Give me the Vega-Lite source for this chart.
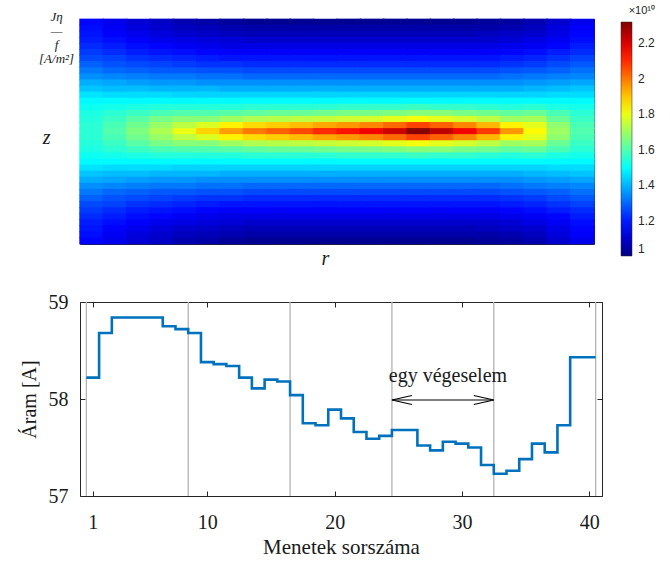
{
"$schema":"https://vega.github.io/schema/vega-lite/v6.json",
"padding":{"left":18,"top":5,"right":0,"bottom":0},
"config":{"font":"Liberation Serif","view":{"stroke":"#262626","strokeWidth":1},"axis":{"grid":false,"domain":false,"labelColor":"#1a1a1a","titleColor":"#1a1a1a","tickColor":"#262626","titleFontWeight":"normal"}},
"spacing":22,
"vconcat":[
{
"width":514,"height":225,
"data":{"values":[
{"r":1,"z":1,"v":1.17},{"r":1,"z":2,"v":1.18},{"r":1,"z":3,"v":1.19},{"r":1,"z":4,"v":1.20},{"r":1,"z":5,"v":1.22},{"r":1,"z":6,"v":1.24},{"r":1,"z":7,"v":1.26},{"r":1,"z":8,"v":1.29},{"r":1,"z":9,"v":1.32},{"r":1,"z":10,"v":1.35},{"r":1,"z":11,"v":1.39},{"r":1,"z":12,"v":1.42},{"r":1,"z":13,"v":1.46},{"r":1,"z":14,"v":1.49},{"r":1,"z":15,"v":1.51},{"r":1,"z":16,"v":1.53},{"r":1,"z":17,"v":1.54},{"r":1,"z":18,"v":1.55},{"r":1,"z":19,"v":1.55},{"r":1,"z":20,"v":1.55},{"r":1,"z":21,"v":1.54},{"r":1,"z":22,"v":1.53},{"r":1,"z":23,"v":1.51},{"r":1,"z":24,"v":1.49},{"r":1,"z":25,"v":1.46},{"r":1,"z":26,"v":1.42},{"r":1,"z":27,"v":1.39},{"r":1,"z":28,"v":1.35},{"r":1,"z":29,"v":1.32},{"r":1,"z":30,"v":1.29},{"r":1,"z":31,"v":1.26},{"r":1,"z":32,"v":1.24},{"r":1,"z":33,"v":1.22},{"r":1,"z":34,"v":1.20},{"r":1,"z":35,"v":1.19},{"r":1,"z":36,"v":1.18},{"r":1,"z":37,"v":1.17},
{"r":2,"z":1,"v":1.14},{"r":2,"z":2,"v":1.15},{"r":2,"z":3,"v":1.16},{"r":2,"z":4,"v":1.18},{"r":2,"z":5,"v":1.20},{"r":2,"z":6,"v":1.22},{"r":2,"z":7,"v":1.25},{"r":2,"z":8,"v":1.27},{"r":2,"z":9,"v":1.30},{"r":2,"z":10,"v":1.34},{"r":2,"z":11,"v":1.38},{"r":2,"z":12,"v":1.41},{"r":2,"z":13,"v":1.45},{"r":2,"z":14,"v":1.49},{"r":2,"z":15,"v":1.52},{"r":2,"z":16,"v":1.55},{"r":2,"z":17,"v":1.57},{"r":2,"z":18,"v":1.59},{"r":2,"z":19,"v":1.60},{"r":2,"z":20,"v":1.59},{"r":2,"z":21,"v":1.57},{"r":2,"z":22,"v":1.55},{"r":2,"z":23,"v":1.52},{"r":2,"z":24,"v":1.49},{"r":2,"z":25,"v":1.45},{"r":2,"z":26,"v":1.41},{"r":2,"z":27,"v":1.38},{"r":2,"z":28,"v":1.34},{"r":2,"z":29,"v":1.30},{"r":2,"z":30,"v":1.27},{"r":2,"z":31,"v":1.25},{"r":2,"z":32,"v":1.22},{"r":2,"z":33,"v":1.20},{"r":2,"z":34,"v":1.18},{"r":2,"z":35,"v":1.16},{"r":2,"z":36,"v":1.15},{"r":2,"z":37,"v":1.14},
{"r":3,"z":1,"v":1.11},{"r":3,"z":2,"v":1.12},{"r":3,"z":3,"v":1.14},{"r":3,"z":4,"v":1.16},{"r":3,"z":5,"v":1.18},{"r":3,"z":6,"v":1.20},{"r":3,"z":7,"v":1.23},{"r":3,"z":8,"v":1.26},{"r":3,"z":9,"v":1.29},{"r":3,"z":10,"v":1.33},{"r":3,"z":11,"v":1.37},{"r":3,"z":12,"v":1.41},{"r":3,"z":13,"v":1.45},{"r":3,"z":14,"v":1.49},{"r":3,"z":15,"v":1.53},{"r":3,"z":16,"v":1.57},{"r":3,"z":17,"v":1.61},{"r":3,"z":18,"v":1.64},{"r":3,"z":19,"v":1.66},{"r":3,"z":20,"v":1.64},{"r":3,"z":21,"v":1.61},{"r":3,"z":22,"v":1.57},{"r":3,"z":23,"v":1.53},{"r":3,"z":24,"v":1.49},{"r":3,"z":25,"v":1.45},{"r":3,"z":26,"v":1.41},{"r":3,"z":27,"v":1.37},{"r":3,"z":28,"v":1.33},{"r":3,"z":29,"v":1.29},{"r":3,"z":30,"v":1.26},{"r":3,"z":31,"v":1.23},{"r":3,"z":32,"v":1.20},{"r":3,"z":33,"v":1.18},{"r":3,"z":34,"v":1.16},{"r":3,"z":35,"v":1.14},{"r":3,"z":36,"v":1.12},{"r":3,"z":37,"v":1.11},
{"r":4,"z":1,"v":1.09},{"r":4,"z":2,"v":1.10},{"r":4,"z":3,"v":1.12},{"r":4,"z":4,"v":1.14},{"r":4,"z":5,"v":1.17},{"r":4,"z":6,"v":1.19},{"r":4,"z":7,"v":1.22},{"r":4,"z":8,"v":1.25},{"r":4,"z":9,"v":1.28},{"r":4,"z":10,"v":1.32},{"r":4,"z":11,"v":1.36},{"r":4,"z":12,"v":1.40},{"r":4,"z":13,"v":1.45},{"r":4,"z":14,"v":1.49},{"r":4,"z":15,"v":1.54},{"r":4,"z":16,"v":1.59},{"r":4,"z":17,"v":1.65},{"r":4,"z":18,"v":1.69},{"r":4,"z":19,"v":1.72},{"r":4,"z":20,"v":1.69},{"r":4,"z":21,"v":1.65},{"r":4,"z":22,"v":1.59},{"r":4,"z":23,"v":1.54},{"r":4,"z":24,"v":1.49},{"r":4,"z":25,"v":1.45},{"r":4,"z":26,"v":1.40},{"r":4,"z":27,"v":1.36},{"r":4,"z":28,"v":1.32},{"r":4,"z":29,"v":1.28},{"r":4,"z":30,"v":1.25},{"r":4,"z":31,"v":1.22},{"r":4,"z":32,"v":1.19},{"r":4,"z":33,"v":1.17},{"r":4,"z":34,"v":1.14},{"r":4,"z":35,"v":1.12},{"r":4,"z":36,"v":1.10},{"r":4,"z":37,"v":1.09},
{"r":5,"z":1,"v":1.06},{"r":5,"z":2,"v":1.08},{"r":5,"z":3,"v":1.10},{"r":5,"z":4,"v":1.13},{"r":5,"z":5,"v":1.15},{"r":5,"z":6,"v":1.18},{"r":5,"z":7,"v":1.21},{"r":5,"z":8,"v":1.24},{"r":5,"z":9,"v":1.28},{"r":5,"z":10,"v":1.32},{"r":5,"z":11,"v":1.36},{"r":5,"z":12,"v":1.40},{"r":5,"z":13,"v":1.44},{"r":5,"z":14,"v":1.49},{"r":5,"z":15,"v":1.54},{"r":5,"z":16,"v":1.60},{"r":5,"z":17,"v":1.67},{"r":5,"z":18,"v":1.74},{"r":5,"z":19,"v":1.80},{"r":5,"z":20,"v":1.74},{"r":5,"z":21,"v":1.67},{"r":5,"z":22,"v":1.60},{"r":5,"z":23,"v":1.54},{"r":5,"z":24,"v":1.49},{"r":5,"z":25,"v":1.44},{"r":5,"z":26,"v":1.40},{"r":5,"z":27,"v":1.36},{"r":5,"z":28,"v":1.32},{"r":5,"z":29,"v":1.28},{"r":5,"z":30,"v":1.24},{"r":5,"z":31,"v":1.21},{"r":5,"z":32,"v":1.18},{"r":5,"z":33,"v":1.15},{"r":5,"z":34,"v":1.13},{"r":5,"z":35,"v":1.10},{"r":5,"z":36,"v":1.08},{"r":5,"z":37,"v":1.06},
{"r":6,"z":1,"v":1.05},{"r":6,"z":2,"v":1.07},{"r":6,"z":3,"v":1.09},{"r":6,"z":4,"v":1.12},{"r":6,"z":5,"v":1.14},{"r":6,"z":6,"v":1.17},{"r":6,"z":7,"v":1.20},{"r":6,"z":8,"v":1.23},{"r":6,"z":9,"v":1.27},{"r":6,"z":10,"v":1.31},{"r":6,"z":11,"v":1.35},{"r":6,"z":12,"v":1.40},{"r":6,"z":13,"v":1.44},{"r":6,"z":14,"v":1.49},{"r":6,"z":15,"v":1.54},{"r":6,"z":16,"v":1.60},{"r":6,"z":17,"v":1.67},{"r":6,"z":18,"v":1.78},{"r":6,"z":19,"v":1.88},{"r":6,"z":20,"v":1.78},{"r":6,"z":21,"v":1.67},{"r":6,"z":22,"v":1.60},{"r":6,"z":23,"v":1.54},{"r":6,"z":24,"v":1.49},{"r":6,"z":25,"v":1.44},{"r":6,"z":26,"v":1.40},{"r":6,"z":27,"v":1.35},{"r":6,"z":28,"v":1.31},{"r":6,"z":29,"v":1.27},{"r":6,"z":30,"v":1.23},{"r":6,"z":31,"v":1.20},{"r":6,"z":32,"v":1.17},{"r":6,"z":33,"v":1.14},{"r":6,"z":34,"v":1.12},{"r":6,"z":35,"v":1.09},{"r":6,"z":36,"v":1.07},{"r":6,"z":37,"v":1.05},
{"r":7,"z":1,"v":1.03},{"r":7,"z":2,"v":1.06},{"r":7,"z":3,"v":1.08},{"r":7,"z":4,"v":1.11},{"r":7,"z":5,"v":1.13},{"r":7,"z":6,"v":1.16},{"r":7,"z":7,"v":1.19},{"r":7,"z":8,"v":1.23},{"r":7,"z":9,"v":1.27},{"r":7,"z":10,"v":1.31},{"r":7,"z":11,"v":1.35},{"r":7,"z":12,"v":1.39},{"r":7,"z":13,"v":1.44},{"r":7,"z":14,"v":1.49},{"r":7,"z":15,"v":1.54},{"r":7,"z":16,"v":1.61},{"r":7,"z":17,"v":1.70},{"r":7,"z":18,"v":1.84},{"r":7,"z":19,"v":1.95},{"r":7,"z":20,"v":1.84},{"r":7,"z":21,"v":1.70},{"r":7,"z":22,"v":1.61},{"r":7,"z":23,"v":1.54},{"r":7,"z":24,"v":1.49},{"r":7,"z":25,"v":1.44},{"r":7,"z":26,"v":1.39},{"r":7,"z":27,"v":1.35},{"r":7,"z":28,"v":1.31},{"r":7,"z":29,"v":1.27},{"r":7,"z":30,"v":1.23},{"r":7,"z":31,"v":1.19},{"r":7,"z":32,"v":1.16},{"r":7,"z":33,"v":1.13},{"r":7,"z":34,"v":1.11},{"r":7,"z":35,"v":1.08},{"r":7,"z":36,"v":1.06},{"r":7,"z":37,"v":1.03},
{"r":8,"z":1,"v":1.02},{"r":8,"z":2,"v":1.05},{"r":8,"z":3,"v":1.07},{"r":8,"z":4,"v":1.10},{"r":8,"z":5,"v":1.13},{"r":8,"z":6,"v":1.16},{"r":8,"z":7,"v":1.19},{"r":8,"z":8,"v":1.22},{"r":8,"z":9,"v":1.26},{"r":8,"z":10,"v":1.30},{"r":8,"z":11,"v":1.35},{"r":8,"z":12,"v":1.39},{"r":8,"z":13,"v":1.44},{"r":8,"z":14,"v":1.49},{"r":8,"z":15,"v":1.55},{"r":8,"z":16,"v":1.62},{"r":8,"z":17,"v":1.72},{"r":8,"z":18,"v":1.87},{"r":8,"z":19,"v":2.00},{"r":8,"z":20,"v":1.87},{"r":8,"z":21,"v":1.72},{"r":8,"z":22,"v":1.62},{"r":8,"z":23,"v":1.55},{"r":8,"z":24,"v":1.49},{"r":8,"z":25,"v":1.44},{"r":8,"z":26,"v":1.39},{"r":8,"z":27,"v":1.35},{"r":8,"z":28,"v":1.30},{"r":8,"z":29,"v":1.26},{"r":8,"z":30,"v":1.22},{"r":8,"z":31,"v":1.19},{"r":8,"z":32,"v":1.16},{"r":8,"z":33,"v":1.13},{"r":8,"z":34,"v":1.10},{"r":8,"z":35,"v":1.07},{"r":8,"z":36,"v":1.05},{"r":8,"z":37,"v":1.02},
{"r":9,"z":1,"v":1.02},{"r":9,"z":2,"v":1.05},{"r":9,"z":3,"v":1.07},{"r":9,"z":4,"v":1.10},{"r":9,"z":5,"v":1.13},{"r":9,"z":6,"v":1.16},{"r":9,"z":7,"v":1.19},{"r":9,"z":8,"v":1.22},{"r":9,"z":9,"v":1.26},{"r":9,"z":10,"v":1.30},{"r":9,"z":11,"v":1.35},{"r":9,"z":12,"v":1.39},{"r":9,"z":13,"v":1.44},{"r":9,"z":14,"v":1.49},{"r":9,"z":15,"v":1.55},{"r":9,"z":16,"v":1.63},{"r":9,"z":17,"v":1.73},{"r":9,"z":18,"v":1.89},{"r":9,"z":19,"v":2.03},{"r":9,"z":20,"v":1.89},{"r":9,"z":21,"v":1.73},{"r":9,"z":22,"v":1.63},{"r":9,"z":23,"v":1.55},{"r":9,"z":24,"v":1.49},{"r":9,"z":25,"v":1.44},{"r":9,"z":26,"v":1.39},{"r":9,"z":27,"v":1.35},{"r":9,"z":28,"v":1.30},{"r":9,"z":29,"v":1.26},{"r":9,"z":30,"v":1.22},{"r":9,"z":31,"v":1.19},{"r":9,"z":32,"v":1.16},{"r":9,"z":33,"v":1.13},{"r":9,"z":34,"v":1.10},{"r":9,"z":35,"v":1.07},{"r":9,"z":36,"v":1.05},{"r":9,"z":37,"v":1.02},
{"r":10,"z":1,"v":1.02},{"r":10,"z":2,"v":1.05},{"r":10,"z":3,"v":1.07},{"r":10,"z":4,"v":1.10},{"r":10,"z":5,"v":1.13},{"r":10,"z":6,"v":1.16},{"r":10,"z":7,"v":1.19},{"r":10,"z":8,"v":1.22},{"r":10,"z":9,"v":1.26},{"r":10,"z":10,"v":1.30},{"r":10,"z":11,"v":1.35},{"r":10,"z":12,"v":1.39},{"r":10,"z":13,"v":1.44},{"r":10,"z":14,"v":1.49},{"r":10,"z":15,"v":1.55},{"r":10,"z":16,"v":1.63},{"r":10,"z":17,"v":1.74},{"r":10,"z":18,"v":1.91},{"r":10,"z":19,"v":2.06},{"r":10,"z":20,"v":1.91},{"r":10,"z":21,"v":1.74},{"r":10,"z":22,"v":1.63},{"r":10,"z":23,"v":1.55},{"r":10,"z":24,"v":1.49},{"r":10,"z":25,"v":1.44},{"r":10,"z":26,"v":1.39},{"r":10,"z":27,"v":1.35},{"r":10,"z":28,"v":1.30},{"r":10,"z":29,"v":1.26},{"r":10,"z":30,"v":1.22},{"r":10,"z":31,"v":1.19},{"r":10,"z":32,"v":1.16},{"r":10,"z":33,"v":1.13},{"r":10,"z":34,"v":1.10},{"r":10,"z":35,"v":1.07},{"r":10,"z":36,"v":1.05},{"r":10,"z":37,"v":1.02},
{"r":11,"z":1,"v":1.02},{"r":11,"z":2,"v":1.05},{"r":11,"z":3,"v":1.07},{"r":11,"z":4,"v":1.10},{"r":11,"z":5,"v":1.13},{"r":11,"z":6,"v":1.16},{"r":11,"z":7,"v":1.19},{"r":11,"z":8,"v":1.22},{"r":11,"z":9,"v":1.26},{"r":11,"z":10,"v":1.30},{"r":11,"z":11,"v":1.35},{"r":11,"z":12,"v":1.39},{"r":11,"z":13,"v":1.44},{"r":11,"z":14,"v":1.49},{"r":11,"z":15,"v":1.55},{"r":11,"z":16,"v":1.64},{"r":11,"z":17,"v":1.75},{"r":11,"z":18,"v":1.94},{"r":11,"z":19,"v":2.10},{"r":11,"z":20,"v":1.94},{"r":11,"z":21,"v":1.75},{"r":11,"z":22,"v":1.64},{"r":11,"z":23,"v":1.55},{"r":11,"z":24,"v":1.49},{"r":11,"z":25,"v":1.44},{"r":11,"z":26,"v":1.39},{"r":11,"z":27,"v":1.35},{"r":11,"z":28,"v":1.30},{"r":11,"z":29,"v":1.26},{"r":11,"z":30,"v":1.22},{"r":11,"z":31,"v":1.19},{"r":11,"z":32,"v":1.16},{"r":11,"z":33,"v":1.13},{"r":11,"z":34,"v":1.10},{"r":11,"z":35,"v":1.07},{"r":11,"z":36,"v":1.05},{"r":11,"z":37,"v":1.02},
{"r":12,"z":1,"v":1.02},{"r":12,"z":2,"v":1.05},{"r":12,"z":3,"v":1.07},{"r":12,"z":4,"v":1.10},{"r":12,"z":5,"v":1.13},{"r":12,"z":6,"v":1.16},{"r":12,"z":7,"v":1.19},{"r":12,"z":8,"v":1.22},{"r":12,"z":9,"v":1.26},{"r":12,"z":10,"v":1.30},{"r":12,"z":11,"v":1.35},{"r":12,"z":12,"v":1.39},{"r":12,"z":13,"v":1.44},{"r":12,"z":14,"v":1.49},{"r":12,"z":15,"v":1.56},{"r":12,"z":16,"v":1.65},{"r":12,"z":17,"v":1.76},{"r":12,"z":18,"v":1.96},{"r":12,"z":19,"v":2.13},{"r":12,"z":20,"v":1.96},{"r":12,"z":21,"v":1.76},{"r":12,"z":22,"v":1.65},{"r":12,"z":23,"v":1.56},{"r":12,"z":24,"v":1.49},{"r":12,"z":25,"v":1.44},{"r":12,"z":26,"v":1.39},{"r":12,"z":27,"v":1.35},{"r":12,"z":28,"v":1.30},{"r":12,"z":29,"v":1.26},{"r":12,"z":30,"v":1.22},{"r":12,"z":31,"v":1.19},{"r":12,"z":32,"v":1.16},{"r":12,"z":33,"v":1.13},{"r":12,"z":34,"v":1.10},{"r":12,"z":35,"v":1.07},{"r":12,"z":36,"v":1.05},{"r":12,"z":37,"v":1.02},
{"r":13,"z":1,"v":1.02},{"r":13,"z":2,"v":1.05},{"r":13,"z":3,"v":1.07},{"r":13,"z":4,"v":1.10},{"r":13,"z":5,"v":1.13},{"r":13,"z":6,"v":1.16},{"r":13,"z":7,"v":1.19},{"r":13,"z":8,"v":1.22},{"r":13,"z":9,"v":1.26},{"r":13,"z":10,"v":1.30},{"r":13,"z":11,"v":1.35},{"r":13,"z":12,"v":1.39},{"r":13,"z":13,"v":1.44},{"r":13,"z":14,"v":1.49},{"r":13,"z":15,"v":1.56},{"r":13,"z":16,"v":1.65},{"r":13,"z":17,"v":1.77},{"r":13,"z":18,"v":1.98},{"r":13,"z":19,"v":2.17},{"r":13,"z":20,"v":1.98},{"r":13,"z":21,"v":1.77},{"r":13,"z":22,"v":1.65},{"r":13,"z":23,"v":1.56},{"r":13,"z":24,"v":1.49},{"r":13,"z":25,"v":1.44},{"r":13,"z":26,"v":1.39},{"r":13,"z":27,"v":1.35},{"r":13,"z":28,"v":1.30},{"r":13,"z":29,"v":1.26},{"r":13,"z":30,"v":1.22},{"r":13,"z":31,"v":1.19},{"r":13,"z":32,"v":1.16},{"r":13,"z":33,"v":1.13},{"r":13,"z":34,"v":1.10},{"r":13,"z":35,"v":1.07},{"r":13,"z":36,"v":1.05},{"r":13,"z":37,"v":1.02},
{"r":14,"z":1,"v":1.02},{"r":14,"z":2,"v":1.05},{"r":14,"z":3,"v":1.07},{"r":14,"z":4,"v":1.10},{"r":14,"z":5,"v":1.13},{"r":14,"z":6,"v":1.16},{"r":14,"z":7,"v":1.19},{"r":14,"z":8,"v":1.22},{"r":14,"z":9,"v":1.26},{"r":14,"z":10,"v":1.30},{"r":14,"z":11,"v":1.35},{"r":14,"z":12,"v":1.39},{"r":14,"z":13,"v":1.44},{"r":14,"z":14,"v":1.49},{"r":14,"z":15,"v":1.56},{"r":14,"z":16,"v":1.66},{"r":14,"z":17,"v":1.79},{"r":14,"z":18,"v":2.02},{"r":14,"z":19,"v":2.22},{"r":14,"z":20,"v":2.02},{"r":14,"z":21,"v":1.79},{"r":14,"z":22,"v":1.66},{"r":14,"z":23,"v":1.56},{"r":14,"z":24,"v":1.49},{"r":14,"z":25,"v":1.44},{"r":14,"z":26,"v":1.39},{"r":14,"z":27,"v":1.35},{"r":14,"z":28,"v":1.30},{"r":14,"z":29,"v":1.26},{"r":14,"z":30,"v":1.22},{"r":14,"z":31,"v":1.19},{"r":14,"z":32,"v":1.16},{"r":14,"z":33,"v":1.13},{"r":14,"z":34,"v":1.10},{"r":14,"z":35,"v":1.07},{"r":14,"z":36,"v":1.05},{"r":14,"z":37,"v":1.02},
{"r":15,"z":1,"v":1.02},{"r":15,"z":2,"v":1.05},{"r":15,"z":3,"v":1.07},{"r":15,"z":4,"v":1.10},{"r":15,"z":5,"v":1.13},{"r":15,"z":6,"v":1.16},{"r":15,"z":7,"v":1.19},{"r":15,"z":8,"v":1.22},{"r":15,"z":9,"v":1.26},{"r":15,"z":10,"v":1.30},{"r":15,"z":11,"v":1.35},{"r":15,"z":12,"v":1.39},{"r":15,"z":13,"v":1.44},{"r":15,"z":14,"v":1.49},{"r":15,"z":15,"v":1.57},{"r":15,"z":16,"v":1.67},{"r":15,"z":17,"v":1.81},{"r":15,"z":18,"v":2.07},{"r":15,"z":19,"v":2.31},{"r":15,"z":20,"v":2.07},{"r":15,"z":21,"v":1.81},{"r":15,"z":22,"v":1.67},{"r":15,"z":23,"v":1.57},{"r":15,"z":24,"v":1.49},{"r":15,"z":25,"v":1.44},{"r":15,"z":26,"v":1.39},{"r":15,"z":27,"v":1.35},{"r":15,"z":28,"v":1.30},{"r":15,"z":29,"v":1.26},{"r":15,"z":30,"v":1.22},{"r":15,"z":31,"v":1.19},{"r":15,"z":32,"v":1.16},{"r":15,"z":33,"v":1.13},{"r":15,"z":34,"v":1.10},{"r":15,"z":35,"v":1.07},{"r":15,"z":36,"v":1.05},{"r":15,"z":37,"v":1.02},
{"r":16,"z":1,"v":1.02},{"r":16,"z":2,"v":1.05},{"r":16,"z":3,"v":1.07},{"r":16,"z":4,"v":1.10},{"r":16,"z":5,"v":1.13},{"r":16,"z":6,"v":1.16},{"r":16,"z":7,"v":1.19},{"r":16,"z":8,"v":1.22},{"r":16,"z":9,"v":1.26},{"r":16,"z":10,"v":1.30},{"r":16,"z":11,"v":1.35},{"r":16,"z":12,"v":1.39},{"r":16,"z":13,"v":1.44},{"r":16,"z":14,"v":1.49},{"r":16,"z":15,"v":1.56},{"r":16,"z":16,"v":1.67},{"r":16,"z":17,"v":1.79},{"r":16,"z":18,"v":2.03},{"r":16,"z":19,"v":2.24},{"r":16,"z":20,"v":2.03},{"r":16,"z":21,"v":1.79},{"r":16,"z":22,"v":1.67},{"r":16,"z":23,"v":1.56},{"r":16,"z":24,"v":1.49},{"r":16,"z":25,"v":1.44},{"r":16,"z":26,"v":1.39},{"r":16,"z":27,"v":1.35},{"r":16,"z":28,"v":1.30},{"r":16,"z":29,"v":1.26},{"r":16,"z":30,"v":1.22},{"r":16,"z":31,"v":1.19},{"r":16,"z":32,"v":1.16},{"r":16,"z":33,"v":1.13},{"r":16,"z":34,"v":1.10},{"r":16,"z":35,"v":1.07},{"r":16,"z":36,"v":1.05},{"r":16,"z":37,"v":1.02},
{"r":17,"z":1,"v":1.02},{"r":17,"z":2,"v":1.05},{"r":17,"z":3,"v":1.07},{"r":17,"z":4,"v":1.10},{"r":17,"z":5,"v":1.13},{"r":17,"z":6,"v":1.16},{"r":17,"z":7,"v":1.19},{"r":17,"z":8,"v":1.22},{"r":17,"z":9,"v":1.26},{"r":17,"z":10,"v":1.30},{"r":17,"z":11,"v":1.35},{"r":17,"z":12,"v":1.39},{"r":17,"z":13,"v":1.44},{"r":17,"z":14,"v":1.49},{"r":17,"z":15,"v":1.56},{"r":17,"z":16,"v":1.65},{"r":17,"z":17,"v":1.77},{"r":17,"z":18,"v":1.98},{"r":17,"z":19,"v":2.17},{"r":17,"z":20,"v":1.98},{"r":17,"z":21,"v":1.77},{"r":17,"z":22,"v":1.65},{"r":17,"z":23,"v":1.56},{"r":17,"z":24,"v":1.49},{"r":17,"z":25,"v":1.44},{"r":17,"z":26,"v":1.39},{"r":17,"z":27,"v":1.35},{"r":17,"z":28,"v":1.30},{"r":17,"z":29,"v":1.26},{"r":17,"z":30,"v":1.22},{"r":17,"z":31,"v":1.19},{"r":17,"z":32,"v":1.16},{"r":17,"z":33,"v":1.13},{"r":17,"z":34,"v":1.10},{"r":17,"z":35,"v":1.07},{"r":17,"z":36,"v":1.05},{"r":17,"z":37,"v":1.02},
{"r":18,"z":1,"v":1.03},{"r":18,"z":2,"v":1.05},{"r":18,"z":3,"v":1.08},{"r":18,"z":4,"v":1.10},{"r":18,"z":5,"v":1.13},{"r":18,"z":6,"v":1.16},{"r":18,"z":7,"v":1.19},{"r":18,"z":8,"v":1.22},{"r":18,"z":9,"v":1.26},{"r":18,"z":10,"v":1.30},{"r":18,"z":11,"v":1.35},{"r":18,"z":12,"v":1.39},{"r":18,"z":13,"v":1.44},{"r":18,"z":14,"v":1.49},{"r":18,"z":15,"v":1.55},{"r":18,"z":16,"v":1.64},{"r":18,"z":17,"v":1.74},{"r":18,"z":18,"v":1.92},{"r":18,"z":19,"v":2.08},{"r":18,"z":20,"v":1.92},{"r":18,"z":21,"v":1.74},{"r":18,"z":22,"v":1.64},{"r":18,"z":23,"v":1.55},{"r":18,"z":24,"v":1.49},{"r":18,"z":25,"v":1.44},{"r":18,"z":26,"v":1.39},{"r":18,"z":27,"v":1.35},{"r":18,"z":28,"v":1.30},{"r":18,"z":29,"v":1.26},{"r":18,"z":30,"v":1.22},{"r":18,"z":31,"v":1.19},{"r":18,"z":32,"v":1.16},{"r":18,"z":33,"v":1.13},{"r":18,"z":34,"v":1.10},{"r":18,"z":35,"v":1.08},{"r":18,"z":36,"v":1.05},{"r":18,"z":37,"v":1.03},
{"r":19,"z":1,"v":1.04},{"r":19,"z":2,"v":1.06},{"r":19,"z":3,"v":1.09},{"r":19,"z":4,"v":1.11},{"r":19,"z":5,"v":1.14},{"r":19,"z":6,"v":1.17},{"r":19,"z":7,"v":1.20},{"r":19,"z":8,"v":1.23},{"r":19,"z":9,"v":1.27},{"r":19,"z":10,"v":1.31},{"r":19,"z":11,"v":1.35},{"r":19,"z":12,"v":1.39},{"r":19,"z":13,"v":1.44},{"r":19,"z":14,"v":1.49},{"r":19,"z":15,"v":1.54},{"r":19,"z":16,"v":1.62},{"r":19,"z":17,"v":1.70},{"r":19,"z":18,"v":1.84},{"r":19,"z":19,"v":1.96},{"r":19,"z":20,"v":1.84},{"r":19,"z":21,"v":1.70},{"r":19,"z":22,"v":1.62},{"r":19,"z":23,"v":1.54},{"r":19,"z":24,"v":1.49},{"r":19,"z":25,"v":1.44},{"r":19,"z":26,"v":1.39},{"r":19,"z":27,"v":1.35},{"r":19,"z":28,"v":1.31},{"r":19,"z":29,"v":1.27},{"r":19,"z":30,"v":1.23},{"r":19,"z":31,"v":1.20},{"r":19,"z":32,"v":1.17},{"r":19,"z":33,"v":1.14},{"r":19,"z":34,"v":1.11},{"r":19,"z":35,"v":1.09},{"r":19,"z":36,"v":1.06},{"r":19,"z":37,"v":1.04},
{"r":20,"z":1,"v":1.06},{"r":20,"z":2,"v":1.08},{"r":20,"z":3,"v":1.10},{"r":20,"z":4,"v":1.13},{"r":20,"z":5,"v":1.15},{"r":20,"z":6,"v":1.18},{"r":20,"z":7,"v":1.21},{"r":20,"z":8,"v":1.24},{"r":20,"z":9,"v":1.28},{"r":20,"z":10,"v":1.32},{"r":20,"z":11,"v":1.36},{"r":20,"z":12,"v":1.40},{"r":20,"z":13,"v":1.44},{"r":20,"z":14,"v":1.49},{"r":20,"z":15,"v":1.55},{"r":20,"z":16,"v":1.63},{"r":20,"z":17,"v":1.71},{"r":20,"z":18,"v":1.79},{"r":20,"z":19,"v":1.83},{"r":20,"z":20,"v":1.79},{"r":20,"z":21,"v":1.71},{"r":20,"z":22,"v":1.63},{"r":20,"z":23,"v":1.55},{"r":20,"z":24,"v":1.49},{"r":20,"z":25,"v":1.44},{"r":20,"z":26,"v":1.40},{"r":20,"z":27,"v":1.36},{"r":20,"z":28,"v":1.32},{"r":20,"z":29,"v":1.28},{"r":20,"z":30,"v":1.24},{"r":20,"z":31,"v":1.21},{"r":20,"z":32,"v":1.18},{"r":20,"z":33,"v":1.15},{"r":20,"z":34,"v":1.13},{"r":20,"z":35,"v":1.10},{"r":20,"z":36,"v":1.08},{"r":20,"z":37,"v":1.06},
{"r":21,"z":1,"v":1.10},{"r":21,"z":2,"v":1.12},{"r":21,"z":3,"v":1.13},{"r":21,"z":4,"v":1.15},{"r":21,"z":5,"v":1.17},{"r":21,"z":6,"v":1.20},{"r":21,"z":7,"v":1.23},{"r":21,"z":8,"v":1.26},{"r":21,"z":9,"v":1.29},{"r":21,"z":10,"v":1.33},{"r":21,"z":11,"v":1.37},{"r":21,"z":12,"v":1.41},{"r":21,"z":13,"v":1.45},{"r":21,"z":14,"v":1.49},{"r":21,"z":15,"v":1.53},{"r":21,"z":16,"v":1.59},{"r":21,"z":17,"v":1.63},{"r":21,"z":18,"v":1.68},{"r":21,"z":19,"v":1.70},{"r":21,"z":20,"v":1.68},{"r":21,"z":21,"v":1.63},{"r":21,"z":22,"v":1.59},{"r":21,"z":23,"v":1.53},{"r":21,"z":24,"v":1.49},{"r":21,"z":25,"v":1.45},{"r":21,"z":26,"v":1.41},{"r":21,"z":27,"v":1.37},{"r":21,"z":28,"v":1.33},{"r":21,"z":29,"v":1.29},{"r":21,"z":30,"v":1.26},{"r":21,"z":31,"v":1.23},{"r":21,"z":32,"v":1.20},{"r":21,"z":33,"v":1.17},{"r":21,"z":34,"v":1.15},{"r":21,"z":35,"v":1.13},{"r":21,"z":36,"v":1.12},{"r":21,"z":37,"v":1.10},
{"r":22,"z":1,"v":1.14},{"r":22,"z":2,"v":1.16},{"r":22,"z":3,"v":1.17},{"r":22,"z":4,"v":1.18},{"r":22,"z":5,"v":1.20},{"r":22,"z":6,"v":1.22},{"r":22,"z":7,"v":1.25},{"r":22,"z":8,"v":1.28},{"r":22,"z":9,"v":1.31},{"r":22,"z":10,"v":1.34},{"r":22,"z":11,"v":1.38},{"r":22,"z":12,"v":1.42},{"r":22,"z":13,"v":1.45},{"r":22,"z":14,"v":1.49},{"r":22,"z":15,"v":1.52},{"r":22,"z":16,"v":1.55},{"r":22,"z":17,"v":1.57},{"r":22,"z":18,"v":1.59},{"r":22,"z":19,"v":1.60},{"r":22,"z":20,"v":1.59},{"r":22,"z":21,"v":1.57},{"r":22,"z":22,"v":1.55},{"r":22,"z":23,"v":1.52},{"r":22,"z":24,"v":1.49},{"r":22,"z":25,"v":1.45},{"r":22,"z":26,"v":1.42},{"r":22,"z":27,"v":1.38},{"r":22,"z":28,"v":1.34},{"r":22,"z":29,"v":1.31},{"r":22,"z":30,"v":1.28},{"r":22,"z":31,"v":1.25},{"r":22,"z":32,"v":1.22},{"r":22,"z":33,"v":1.20},{"r":22,"z":34,"v":1.18},{"r":22,"z":35,"v":1.17},{"r":22,"z":36,"v":1.16},{"r":22,"z":37,"v":1.14}
]},
"mark":{"type":"rect","width":{"band":1.06},"height":{"band":1.12}},
"encoding":{
"x":{"field":"r","type":"ordinal","scale":{"paddingInner":0,"paddingOuter":0},"axis":{"values":[11],"labelExpr":"'r'","labelAngle":0,"ticks":false,"labelFontSize":20,"labelFontStyle":"italic","labelPadding":4,"title":null}},
"y":{"field":"z","type":"ordinal","scale":{"paddingInner":0,"paddingOuter":0},"axis":{"values":[20],"labelExpr":"'z'","ticks":false,"labelFontSize":20,"labelFontStyle":"italic","labelPadding":30,"title":["Jη","—","f","[A/m²]"],"titleAngle":0,"titleX":-24,"titleY":-9,"titleBaseline":"top","titleAlign":"center","titleFontSize":13,"titleFontStyle":"italic","titleLineHeight":14}},
"color":{"field":"v","type":"quantitative","scale":{"type":"linear","domain":[1,1.165,1.495,1.825,2.155,2.32],"range":["#000083","#0000ff","#00ffff","#ffff00","#ff0000","#800000"],"interpolate":"rgb"},"legend":{"type":"gradient","orient":"none","legendX":541,"legendY":-14,"direction":"vertical","gradientLength":234,"gradientThickness":11,"gradientStrokeColor":"#262626","gradientStrokeWidth":0.5,"values":[1,1.2,1.4,1.6,1.8,2,2.2],"format":"~g","labelFont":"Liberation Sans","labelFontSize":12,"labelColor":"#262626","labelOffset":6,"labelOverlap":false,"labelBaseline":"middle","title":"×10¹⁰","titleFont":"Liberation Sans","titleFontSize":11,"titleFontWeight":"normal","titleColor":"#262626","titlePadding":6,"titleAnchor":"end"}}
}
},
{
"width":522,"height":194,
"resolve":{"axis":{"x":"independent","y":"independent"}},
"layer":[
{"data":{"values":[{"b":0.5},{"b":8.5},{"b":16.5},{"b":24.5},{"b":32.5},{"b":40.5}]},
"mark":{"type":"rule","color":"#b3b3b3","strokeWidth":1.3},
"encoding":{"x":{"field":"b","type":"quantitative","scale":{"domain":[0,41],"nice":false},"axis":{"orient":"top","values":[1,10,20,30,40],"labels":false,"tickSize":-5,"title":null}}}},
{"data":{"values":[{"s":0.5,"I":58.22},{"s":1.5,"I":58.68},{"s":2.5,"I":58.84},{"s":3.5,"I":58.84},{"s":4.5,"I":58.84},{"s":5.5,"I":58.84},{"s":6.5,"I":58.75},{"s":7.5,"I":58.72},{"s":8.5,"I":58.68},{"s":9.5,"I":58.38},{"s":10.5,"I":58.36},{"s":11.5,"I":58.34},{"s":12.5,"I":58.22},{"s":13.5,"I":58.11},{"s":14.5,"I":58.20},{"s":15.5,"I":58.18},{"s":16.5,"I":58.04},{"s":17.5,"I":57.75},{"s":18.5,"I":57.73},{"s":19.5,"I":57.89},{"s":20.5,"I":57.80},{"s":21.5,"I":57.66},{"s":22.5,"I":57.59},{"s":23.5,"I":57.62},{"s":24.5,"I":57.68},{"s":25.5,"I":57.68},{"s":26.5,"I":57.52},{"s":27.5,"I":57.47},{"s":28.5,"I":57.56},{"s":29.5,"I":57.54},{"s":30.5,"I":57.50},{"s":31.5,"I":57.32},{"s":32.5,"I":57.23},{"s":33.5,"I":57.26},{"s":34.5,"I":57.38},{"s":35.5,"I":57.54},{"s":36.5,"I":57.45},{"s":37.5,"I":57.73},{"s":38.5,"I":58.43},{"s":39.5,"I":58.43},{"s":40.5,"I":58.43}]},
"mark":{"type":"line","interpolate":"step-after","color":"#0072BD","strokeWidth":2.6},
"encoding":{
"x":{"field":"s","type":"quantitative","scale":{"domain":[0,41],"nice":false},"axis":{"values":[1,10,20,30,40],"format":"d","labelOverlap":false,"tickSize":-5,"labelFontSize":20,"labelPadding":21,"title":"Menetek sorszáma","titleFontSize":21,"titlePadding":4}},
"y":{"field":"I","type":"quantitative","scale":{"domain":[57,59],"nice":false,"zero":false},"axis":{"values":[57,58,59],"format":"~g","labelOverlap":false,"labelBound":false,"tickSize":-5,"labelFontSize":20,"labelPadding":17,"title":"Áram [A]","titleFontSize":20,"titlePadding":9}}}},
{"data":{"values":[{"a":24.5,"c":32.5,"y":57.99}]},
"mark":{"type":"rule","color":"#000000","strokeWidth":1.1},
"encoding":{"x":{"field":"a","type":"quantitative","axis":null},"x2":{"field":"c"},"y":{"field":"y","type":"quantitative","axis":{"orient":"right","values":[57,58,59],"labels":false,"tickSize":-5,"title":null}}}},
{"data":{"values":[{"p":24.5,"y":57.99,"d":"L"},{"p":32.5,"y":57.99,"d":"R"}]},
"mark":{"type":"point","filled":false,"stroke":"#000000","strokeWidth":1.1,"size":400,"opacity":1},
"encoding":{"x":{"field":"p","type":"quantitative","axis":null},"y":{"field":"y","type":"quantitative","axis":null},"shape":{"field":"d","type":"nominal","scale":{"domain":["L","R"],"range":["M2,-0.45L0,0L2,0.45","M-2,-0.45L0,0L-2,0.45"]},"legend":null}}},
{"data":{"values":[{"p":28.9,"y":58.175,"t":"egy végeselem"}]},
"mark":{"type":"text","fontSize":20,"baseline":"alphabetic","align":"center","color":"#1a1a1a"},
"encoding":{"x":{"field":"p","type":"quantitative","axis":null},"y":{"field":"y","type":"quantitative","axis":null},"text":{"field":"t"}}}
]
}
]
}
